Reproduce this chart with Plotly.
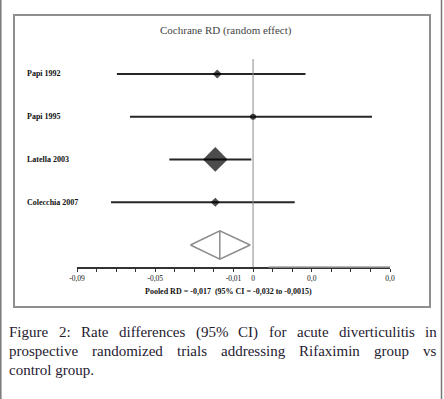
import plotly.graph_objects as go

# ---------------- data ----------------
studies = ["Papi 1992", "Papi 1995", "Latella 2003", "Colecchia 2007"]
rd = [-0.0183, 0.0, -0.0193, -0.0193]
ci_low = [-0.0696, -0.0629, -0.0428, -0.0726]
ci_high = [0.0268, 0.0608, -0.0009, 0.0213]
marker_sizes = [7, 6, 19, 7]
marker_symbols = ["diamond", "circle", "diamond", "diamond"]

pooled_rd = -0.017
pooled_low = -0.032
pooled_high = -0.0015

tick_vals = [-0.09, -0.05, -0.01, 0.0, 0.03, 0.07]
tick_text = ["-0,09", "-0,05", "-0,01", "0", "0,0", "0,0"]

title_text = "Cochrane RD (random effect)"
pooled_text = "Pooled RD = -0,017  (95% CI = -0,032 to -0,0015)"

caption_line1 = ["Figure", "2:", "Rate", "differences", "(95%", "CI)", "for", "acute", "diverticulitis", "in"]
caption_line2 = ["prospective", "randomized", "trials", "addressing", "Rifaximin", "group", "vs"]
caption_line3 = "control group."

W, H = 444, 399
def px(x):
    return x / W
def py(y):
    return 1 - y / H

x_left_px, x_right_px = 77, 390
y_top_px, y_axis_px = 59, 267
y_range = [4.515, -0.35]

TW = {c: 500 for c in "0123456789"}
TW.update(dict(a=444, b=500, c=444, d=500, e=444, f=333, g=500, h=500, i=278, j=278,
               k=500, l=278, m=778, n=500, o=500, p=500, q=500, r=333, s=389, t=278,
               u=500, v=500, w=722, x=500, y=500, z=444))
TW.update({"C": 667, "F": 556, "I": 333, "R": 667, ":": 278, "(": 333, ")": 333,
           "%": 833, ".": 250, " ": 250})
CAP_SIZE = 15

def word_w(w):
    return sum(TW.get(ch, 500) for ch in w) * CAP_SIZE / 1000.0

def justify(words, left, right):
    widths = [word_w(w) for w in words]
    gap = (right - left - sum(widths)) / (len(words) - 1)
    xs, cur = [], left
    for wd in widths:
        xs.append(cur)
        cur += wd + gap
    return xs

fig = go.Figure()
rows = list(range(len(studies)))
pooled_row = len(studies)

for i in rows:
    fig.add_trace(go.Scatter(
        x=[ci_low[i], ci_high[i]], y=[i, i], mode="lines",
        line=dict(color="#262626", width=2), showlegend=False, hoverinfo="skip"))

fig.add_trace(go.Scatter(
    x=[0, 0], y=[y_range[1], y_range[0]], mode="lines",
    line=dict(color="#8a8a8a", width=1), showlegend=False, hoverinfo="skip"))

fig.add_trace(go.Scatter(
    x=rd, y=rows, mode="markers",
    marker=dict(symbol=marker_symbols, size=marker_sizes, color="#000000", line=dict(width=0)),
    showlegend=False, hoverinfo="skip"))

h = 0.33
fig.add_trace(go.Scatter(
    x=[pooled_low, pooled_rd, pooled_high, pooled_rd, pooled_low],
    y=[pooled_row, pooled_row - h, pooled_row, pooled_row + h, pooled_row],
    mode="lines", line=dict(color="#8c8c8c", width=1.5), showlegend=False, hoverinfo="skip"))
fig.add_trace(go.Scatter(
    x=[pooled_rd, pooled_rd], y=[pooled_row - h, pooled_row + h],
    mode="lines", line=dict(color="#8c8c8c", width=1.5), showlegend=False, hoverinfo="skip"))

annotations = []
for i, s in enumerate(studies):
    annotations.append(dict(
        x=px(25), xref="paper", y=i, yref="y", text="<b>%s</b>" % s,
        showarrow=False, xanchor="left", yanchor="middle",
        font=dict(family="Liberation Serif", size=8, color="#111111")))
annotations.append(dict(
    x=px(226), y=py(30), xref="paper", yref="paper", text=title_text,
    showarrow=False, xanchor="center", yanchor="middle",
    font=dict(family="Liberation Serif", size=11, color="#444444")))
annotations.append(dict(
    x=px(229), y=py(291), xref="paper", yref="paper", text="<b>%s</b>" % pooled_text,
    showarrow=False, xanchor="center", yanchor="middle",
    font=dict(family="Liberation Serif", size=8, color="#111111")))

cap_font = dict(family="Liberation Serif", size=CAP_SIZE, color="#1f2030")
for words, yy in [(caption_line1, 332), (caption_line2, 351)]:
    xs = justify(words, 8.3, 435.5)
    for w, xx in zip(words, xs):
        annotations.append(dict(
            x=px(xx), y=py(yy), xref="paper", yref="paper", text=w,
            showarrow=False, xanchor="left", yanchor="middle", xshift=-1, font=cap_font))
annotations.append(dict(
    x=px(8.3), y=py(370), xref="paper", yref="paper", text=caption_line3,
    showarrow=False, xanchor="left", yanchor="middle", xshift=-1, font=cap_font))

shapes = [
    dict(type="rect", xref="paper", yref="paper",
         x0=px(14), x1=px(430), y0=py(307), y1=py(15), line=dict(color="#8f8f8f", width=2)),
    dict(type="line", xref="paper", yref="paper", x0=px(0.8), x1=px(0.8), y0=0, y1=1,
         line=dict(color="#777777", width=1.5)),
    dict(type="line", xref="paper", yref="paper", x0=px(441.5), x1=px(441.5), y0=0, y1=1,
         line=dict(color="#777777", width=1.5)),
    dict(type="line", xref="x", yref="paper", x0=0.008, x1=0.07,
         y0=py(y_axis_px), y1=py(y_axis_px), line=dict(color="#a0a0a0", width=1.5)),
]

fig.update_layout(
    width=W, height=H, margin=dict(l=0, r=0, t=0, b=0, pad=0, autoexpand=False),
    paper_bgcolor="white", plot_bgcolor="white", showlegend=False,
    annotations=annotations, shapes=shapes,
    xaxis=dict(
        domain=[px(x_left_px), px(x_right_px)], range=[-0.09, 0.07],
        tickmode="array", tickvals=tick_vals, ticktext=tick_text,
        ticks="outside", ticklen=3, tickwidth=1, tickcolor="#333333",
        tickfont=dict(family="Liberation Serif", size=7.5, color="#111111"),
        tickprefix="<b>", ticksuffix="</b>",
        minor=dict(tickmode="linear", tick0=0, dtick=0.01, ticks="outside",
                   ticklen=3, tickcolor="#333333", tickwidth=1, showgrid=False),
        showline=True, linecolor="#333333", linewidth=1.5, automargin=False,
        showgrid=False, zeroline=False, fixedrange=True, anchor="y"),
    yaxis=dict(domain=[py(y_axis_px), py(y_top_px)], range=y_range, visible=False,
               automargin=False, fixedrange=True),
)

fig.write_html("out.html", config={"displayModeBar": False},
               post_script="document.body.style.margin='0';document.body.style.padding='0';"
                           "document.body.style.overflow='hidden';"
                           "document.documentElement.style.overflow='hidden';")
